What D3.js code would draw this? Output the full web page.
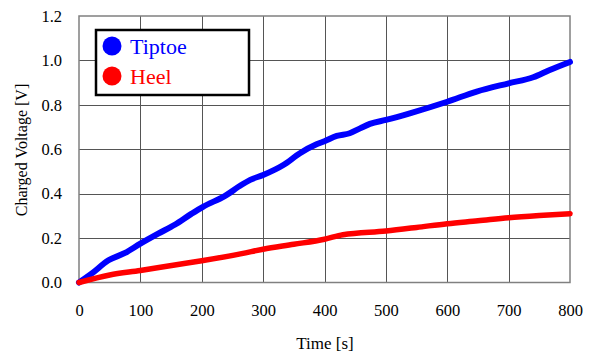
<!DOCTYPE html>
<html><head><meta charset="utf-8">
<script src="https://cdn.jsdelivr.net/npm/d3@7"></script>
<style>body{margin:0;background:#fff}svg{display:block}</style>
</head><body>
<script>
const tiptoeTime = [0,21,48,75,100,129,156,183,202,238,265,279,300,333,360,387,400,420,441,458,474,500,539,600,648,700,740,767,800];
const tiptoeVolt = [0,0.041,0.10,0.133,0.175,0.22,0.26,0.309,0.341,0.39,0.44,0.462,0.484,0.529,0.582,0.622,0.636,0.66,0.672,0.694,0.714,0.732,0.762,0.814,0.86,0.897,0.924,0.957,0.993];
const heelTime = [0,50,100,156,200,265,300,350,400,430,500,550,600,650,700,750,800];
const heelVolt = [0,0.034,0.054,0.079,0.098,0.13,0.15,0.172,0.195,0.215,0.232,0.248,0.265,0.278,0.292,0.302,0.31];
const xTicks = [0,100,200,300,400,500,600,700,800];
const yTicks = [0,0.2,0.4,0.6,0.8,1.0,1.2];
const seriesNames = ["Tiptoe","Heel"];
const seriesColors = ["#0000ff","#ff0000"];

const FONT='"Liberation Serif","Times New Roman",Times,serif';
const W=591,H=352;
const L=79,R=570,T=16,B=282.5;
const svg=d3.select("body").append("svg").attr("width",W).attr("height",H);
const x=d3.scaleLinear().domain([0,800]).range([L,R]);
const y=d3.scaleLinear().domain([0,1.2]).range([B,T]);

// grid
const g=svg.append("g");
g.selectAll(".vx").data(xTicks.slice(1,-1)).enter().append("line")
 .attr("x1",d=>Math.round(x(d))+0.5).attr("x2",d=>Math.round(x(d))+0.5).attr("y1",T).attr("y2",B)
 .attr("stroke","#555").attr("stroke-width",1);
g.selectAll(".hy").data(yTicks.slice(1,-1)).enter().append("line")
 .attr("y1",d=>Math.round(y(d))+0.5).attr("y2",d=>Math.round(y(d))+0.5).attr("x1",L).attr("x2",R)
 .attr("stroke","#555").attr("stroke-width",1);
svg.append("rect").attr("x",L).attr("y",T).attr("width",R-L).attr("height",B-T)
 .attr("fill","none").attr("stroke","#808080").attr("stroke-width",1.5);

// axes (labels only)
const xa=svg.append("g").attr("transform",`translate(0,${B})`)
 .call(d3.axisBottom(x).tickValues(xTicks).tickSize(0).tickPadding(22).tickFormat(d3.format("d")));
const ya=svg.append("g").attr("transform",`translate(${L},0)`)
 .call(d3.axisLeft(y).tickValues(yTicks).tickSize(0).tickPadding(17).tickFormat(d3.format(".1f")));
[xa,ya].forEach(a=>{a.select(".domain").remove();a.attr("font-family",null).attr("font-size",null);
 a.selectAll("text").style("font-size","16.5px").attr("fill","#000").style("font-family",FONT);});

svg.append("text").attr("x",325).attr("y",349).attr("text-anchor","middle").style("font-family",FONT).style("font-size","17px").text("Time [s]");
svg.append("text").attr("transform","translate(27,150) rotate(-90)").attr("text-anchor","middle").style("font-family",FONT).style("font-size","16px").text("Charged Voltage [V]");

// lines
const line=d3.line().x(d=>x(d[0])).y(d=>y(d[1])).curve(d3.curveMonotoneX);
const sets=[d3.zip(tiptoeTime,tiptoeVolt),d3.zip(heelTime,heelVolt)];
sets.forEach((s,i)=>{
 svg.append("path").datum(s).attr("d",line).attr("fill","none").attr("stroke",seriesColors[i])
  .attr("stroke-width",i===0?6:5.5).attr("stroke-linecap","round").attr("stroke-linejoin","round");
});

// legend
svg.append("rect").attr("x",96).attr("y",30).attr("width",153).attr("height",65)
 .attr("fill","#fff").attr("stroke","#000").attr("stroke-width",2.5);
seriesNames.forEach((n,i)=>{
 svg.append("circle").attr("cx",112).attr("cy",46+i*30).attr("r",9.5).attr("fill",seriesColors[i]);
 svg.append("text").attr("x",130).attr("y",53.5+i*30).style("font-family",FONT).style("font-size","22px").attr("fill",seriesColors[i]).text(n);
});
</script>
</body></html>
